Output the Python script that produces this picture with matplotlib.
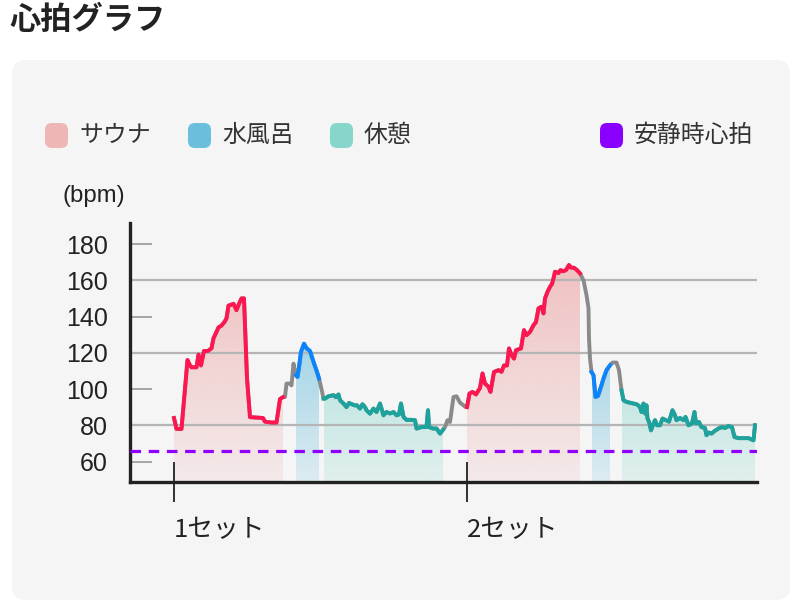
import numpy as np
import matplotlib
matplotlib.use("Agg")
import matplotlib.pyplot as plt
import matplotlib.transforms as mtransforms
from matplotlib.patches import FancyBboxPatch
from matplotlib.colors import to_rgb

plt.rcParams['font.family'] = ['Noto Sans CJK JP', 'DejaVu Sans']

# heart rate readings (minutes from start of set 1, bpm)
minutes = [
    0.0, 0.25, 0.75, 1.35, 1.6, 1.75, 2.25, 2.45, 2.7, 3.0, 3.4, 3.75, 3.95, 4.25, 4.45,
    4.75, 5.05, 5.25, 5.45, 5.95, 6.25, 6.5, 6.75, 7.0, 7.3, 7.6, 8.9, 9.1, 9.75, 10.25,
    10.6, 10.9,
    11.1, 11.25, 11.6, 11.75, 11.95, 12.1,
    12.2, 12.35, 12.5, 12.7, 13.0, 13.25, 13.6, 13.95, 14.35, 14.5,
    14.75,
    14.95, 15.1, 15.45, 15.95, 16.2, 16.45, 16.6, 16.95, 17.25, 17.5, 18.05, 18.3, 18.6,
    18.85, 19.1, 19.25, 19.6, 19.95, 20.25, 20.6, 20.95, 21.25, 21.6, 21.95, 22.25, 22.5,
    22.7, 22.95, 23.25, 23.75, 24.1, 24.25, 24.75, 25.25, 25.4, 25.5, 25.9, 26.25, 26.6,
    26.9,
    27.1, 27.35, 27.6, 27.95, 28.25, 28.6, 29.1,
    29.3, 29.55, 29.85, 30.2, 30.45, 30.6, 30.85, 31.1, 31.45, 31.65, 32.0, 32.45, 32.75,
    33.0, 33.3, 33.5, 33.75, 34.0, 34.2, 34.7, 35.0, 35.25, 35.6, 35.95, 36.2, 36.45,
    36.75, 36.95, 37.1, 37.35, 37.6, 37.8, 37.95, 38.1, 38.45, 38.65, 38.9, 39.2, 39.5,
    39.7, 40.0, 40.3, 40.6,
    40.95, 41.25, 41.45, 41.5, 41.6,
    41.75, 41.95, 42.15, 42.4, 42.7, 42.95, 43.25, 43.6,
    43.85, 44.25, 44.5,
    44.75, 44.95, 45.25, 45.95, 46.3, 46.6, 46.75, 46.95, 47.1, 47.25, 47.35, 47.5, 47.7,
    47.95, 48.1, 48.3, 48.6, 48.85, 49.2, 49.5, 49.85, 50.1, 50.25, 50.6, 50.95, 51.15,
    51.45, 51.8, 52.05, 52.2, 52.5, 52.75, 53.1, 53.25, 53.5, 53.75, 54.1, 54.45, 54.8,
    55.1, 55.45, 55.8, 56.05, 56.45, 57.45, 57.95, 58.1,
]
bpm = [
    84, 78, 78, 116, 113, 112, 112, 119, 113, 121, 121, 122.5, 128, 131.5, 134,
    135, 137, 139, 146, 147, 143.5, 147, 150, 150, 106, 84.5, 84, 82, 81.5, 81.5,
    94.5, 95.5,
    95.6, 103, 103, 102, 114, 110,
    107.6, 106.7, 112, 120.5, 125, 122.5, 121, 115, 108.6, 105.8,
    100,
    94.7, 94.7, 96, 96.6, 95.5, 97, 93.8, 92, 90, 92.3, 91, 91, 89.2,
    91.6, 90, 88.3, 86.4, 89.2, 87.3, 92, 85.5, 87.3, 86.5, 87.3, 85.5, 86,
    92, 84.6, 83, 83, 82.8, 78.2, 79, 79, 88.3, 79, 78.2, 78.2, 75.4,
    77.5,
    79, 82.8, 81.8, 95.6, 96, 92.5, 90.3,
    90, 97.5, 98.4, 97, 99.3, 100.5, 108.6, 103, 101.2, 98.4, 109.4, 110.4, 109.5,
    113, 113, 122.4, 118.7, 116.8, 121.4, 122.4, 132.5, 129.7, 131.5, 135.2, 137, 144.5,
    145.4, 141.7, 150, 153.6, 156.4, 158, 161, 164.7, 164, 165.6, 165, 165.6, 168.4,
    167, 166.9, 165.6, 163.8,
    160, 151.8, 144.5, 127.9, 116.8,
    109.4, 107.6, 95.6, 96.2, 101.2, 105.8, 110.4, 113.1,
    114.6, 114.6, 110.4,
    99.3, 93.8, 92.9, 92, 91.5, 90.1, 87.3, 92, 86.5, 91, 83.7, 82, 77.2,
    80.9, 82.8, 80, 80, 83.7, 82.8, 82, 88.3, 85.5, 82.8, 84, 82.8, 84.6,
    80, 81, 87.3, 81, 81.8, 79, 78.5, 74.5, 76, 75.4, 77, 78.2, 79,
    78.5, 79.6, 79, 73.5, 72.9, 72.9, 71.7, 80,
]

# phases (start, end) in minutes
sauna = [(0.0, 10.9), (29.3, 40.6)]
cold_bath = [(12.2, 14.5), (41.75, 43.6)]
rest = [(14.95, 26.9), (44.75, 58.1)]

resting_bpm = 66
set_starts = [0.0, 29.3]
set_labels = ['1セット', '2セット']
yticks = [60, 80, 100, 120, 140, 160, 180]
legend_labels = ['サウナ', '水風呂', '休憩', '安静時心拍']

t = np.array(minutes)
v = np.array(bpm)
ymin, ymax = 48.7, 191.6

fig = plt.figure(figsize=(8, 6.12), dpi=100)
fig.patch.set_facecolor('white')

# background layer in pixel coords
bg = fig.add_axes([0, 0, 1, 1], zorder=0)
bg.set_xlim(0, 800)
bg.set_ylim(612, 0)
bg.axis('off')
bg.add_patch(FancyBboxPatch((12, 60), 778, 540, boxstyle='round,pad=0,rounding_size=14',
                            fc='#f5f5f5', ec='none'))
bg.text(9, 20, '心拍グラフ', fontsize=22.5, fontweight='bold', color='#222222',
        ha='left', va='center')

leg_colors = ['#efb6b6', '#6bbfdc', '#86d6cc', '#8a00ff']
leg_box_x = [45, 188, 330, 600]
for bx, col, lab in zip(leg_box_x, leg_colors, legend_labels):
    bg.add_patch(FancyBboxPatch((bx, 123), 23, 25, boxstyle='round,pad=0,rounding_size=7',
                                fc=col, ec='none'))
    bg.text(bx + 34, 135, lab, fontsize=17.2, color='#333333', ha='left', va='center')

bg.text(62, 196, '(bpm)', fontsize=17.2, color='#222222', ha='left', va='center',
        family='Liberation Sans')

# main chart
ax = fig.add_axes([130 / 800, 1 - 482 / 612, 627 / 800, 259 / 612], zorder=1)
ax.set_facecolor('none')


def gradient_fill(t0, t1, color):
    m = (t >= t0) & (t <= t1)
    poly = ax.fill_between(t[m], v[m], ymin, facecolor='none', edgecolor='none')
    grad = np.zeros((200, 1, 4))
    grad[..., :3] = to_rgb(color)
    grad[..., 3] = np.linspace(0.18, 0.95, 200)[:, None]
    im = ax.imshow(grad, aspect='auto', origin='lower', extent=[t0, t1, ymin, ymax],
                   zorder=1, interpolation='bilinear')
    im.set_clip_path(poly.get_paths()[0], transform=ax.transData)


for (a, b) in sauna:
    gradient_fill(a, b, '#efb6b6')
for (a, b) in cold_bath:
    gradient_fill(a, b, '#6bbfdc')
for (a, b) in rest:
    gradient_fill(a, b, '#86d6cc')

# grid
for g in [80, 120, 160]:
    ax.axhline(g, color='#b5b5b5', lw=1.6, zorder=2)
blend = mtransforms.blended_transform_factory(ax.transAxes, ax.transData)
for g in [60, 100, 140, 180]:
    ax.plot([0, 0.033], [g, g], transform=blend, color='#a5a5a5', lw=1.4, zorder=2)

ax.axhline(resting_bpm, color='#8f00ff', lw=2.3, dashes=(3.3, 2.4), zorder=3)

# heart rate line, gray base with phase colours on top
ax.plot(t, v, color='#8a8a8a', lw=2.8, zorder=4, solid_joinstyle='round')
for phases, col in [(sauna, '#ff1650'), (cold_bath, '#0a84ff'), (rest, '#1ca39e')]:
    for (a, b) in phases:
        m = (t >= a) & (t <= b)
        ax.plot(t[m], v[m], color=col, lw=2.8, zorder=5, solid_joinstyle='round')

ax.set_xlim(-4.4, 58.3)
ax.set_ylim(ymin, ymax)

for s in ['top', 'right']:
    ax.spines[s].set_visible(False)
for s in ['left', 'bottom']:
    ax.spines[s].set_linewidth(2.4)
    ax.spines[s].set_color('#222222')

ax.set_yticks(yticks)
ax.set_yticklabels([str(y) for y in yticks], family='Liberation Sans', fontsize=18,
                   color='#222222')
ax.tick_params(axis='y', length=0, pad=16)

ax.set_xticks(set_starts)
ax.set_xticklabels([''] * len(set_starts))
ax.tick_params(axis='x', direction='inout', length=29.5, width=1.3, color='#222222')
xblend = mtransforms.blended_transform_factory(ax.transData, ax.transAxes)
for x0, lab in zip(set_starts, set_labels):
    ax.text(x0, -0.185, lab, transform=xblend, fontsize=18.5, color='#222222',
            ha='left', va='center')

fig.savefig('out.png', dpi=100, facecolor='white')
